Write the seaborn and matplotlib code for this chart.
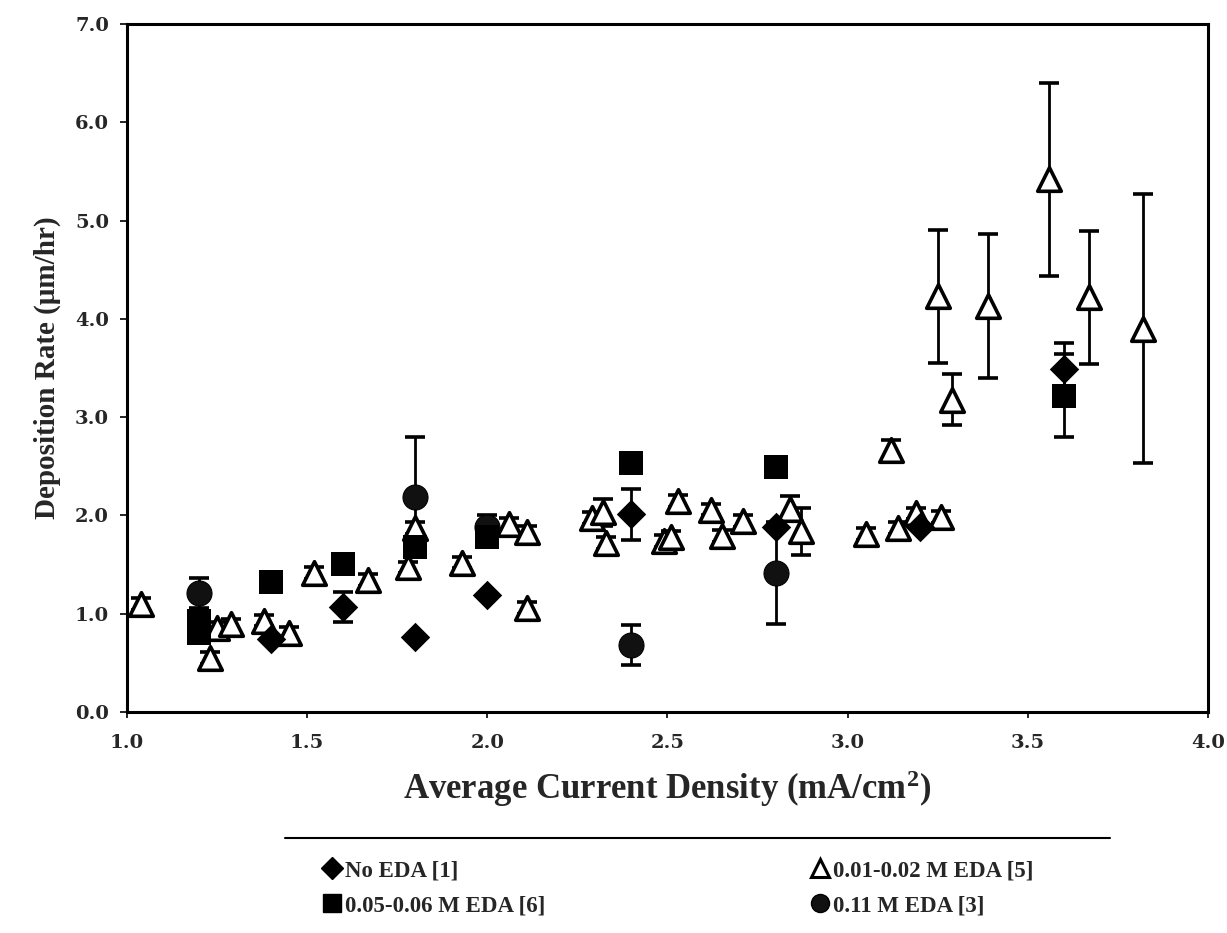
import matplotlib
matplotlib.use("Agg")
import matplotlib.pyplot as plt
import seaborn as sns
import numpy as np
import pandas as pd
from matplotlib.lines import Line2D

# ---------------- data ----------------
no_eda_x = [1.4, 1.6, 1.8, 2.0, 2.4, 2.8, 3.2, 3.6]
no_eda_y = [0.74, 1.07, 0.76, 1.19, 2.01, 1.88, 1.88, 3.49]
no_eda_err = [0.0, 0.15, 0.0, 0.0, 0.26, 0.0, 0.0, 0.27]

low_x = [1.04, 1.23, 1.25, 1.29, 1.38, 1.45, 1.52, 1.67, 1.78, 1.80, 1.93,
         2.06, 2.11, 2.11, 2.29, 2.32, 2.33, 2.49, 2.51, 2.53, 2.62, 2.65,
         2.71, 2.84, 2.87, 3.05, 3.12, 3.14, 3.19, 3.26, 3.25, 3.29, 3.39,
         3.56, 3.67, 3.82]
low_y = [1.10, 0.55, 0.85, 0.89, 0.93, 0.80, 1.41, 1.34, 1.47, 1.87, 1.52,
         1.91, 1.83, 1.06, 1.97, 2.03, 1.72, 1.74, 1.78, 2.15, 2.06, 1.79,
         1.94, 2.07, 1.84, 1.81, 2.67, 1.87, 2.02, 1.98, 4.23, 3.18, 4.13,
         5.42, 4.22, 3.90]
low_err = [0.06, 0.06, 0.06, 0.06, 0.06, 0.06, 0.06, 0.06, 0.06, 0.06, 0.06,
           0.06, 0.06, 0.06, 0.06, 0.14, 0.06, 0.06, 0.06, 0.06, 0.06, 0.06,
           0.06, 0.13, 0.24, 0.06, 0.10, 0.06, 0.06, 0.06, 0.68, 0.26, 0.73,
           0.98, 0.68, 1.37]

mid_x = [1.2, 1.2, 1.4, 1.6, 1.8, 2.0, 2.4, 2.8, 3.6]
mid_y = [0.80, 0.93, 1.32, 1.51, 1.68, 1.78, 2.53, 2.49, 3.22]
mid_err = [0.0, 0.0, 0.0, 0.0, 0.0, 0.0, 0.0, 0.0, 0.42]

high_x = [1.2, 1.8, 2.0, 2.4, 2.8]
high_y = [1.21, 2.19, 1.88, 0.68, 1.41]
high_err = [0.15, 0.61, 0.12, 0.20, 0.52]

labels = ["No EDA [1]", "0.01-0.02 M EDA [5]", "0.05-0.06 M EDA [6]", "0.11 M EDA [3]"]
x_ticks = [1.0, 1.5, 2.0, 2.5, 3.0, 3.5, 4.0]
y_ticks = [0.0, 1.0, 2.0, 3.0, 4.0, 5.0, 6.0, 7.0]

# ---------------- style ----------------
sns.set_theme(style="white")
plt.rcParams['font.family'] = ['Liberation Serif', 'DejaVu Serif']
plt.rcParams['font.weight'] = 'bold'
plt.rcParams['mathtext.fontset'] = 'custom'
plt.rcParams['mathtext.rm'] = 'Liberation Serif:bold'
plt.rcParams['mathtext.bf'] = 'Liberation Serif:bold'
plt.rcParams['mathtext.it'] = 'Liberation Serif:bold'

fig = plt.figure(figsize=(12.27, 9.33), dpi=100)
ax = fig.add_axes([0.1035, 0.237, 0.881, 0.737])

series = [
    (no_eda_x, no_eda_y, no_eda_err, "D", "black", "black", 15, 0, labels[0]),
    (low_x, low_y, low_err, "^", "white", "black", 17, 2.6, labels[1]),
    (mid_x, mid_y, mid_err, "s", "black", "black", 17, 0, labels[2]),
    (high_x, high_y, high_err, "o", "#111111", "black", 18, 0.8, labels[3]),
]

order = [1, 0, 3, 2]
for i in order:
    xs, ys, es, m, fc, ec, ms, mew, lab = series[i]
    es = np.array(es)
    mask = es > 0
    if mask.any():
        ax.errorbar(np.array(xs)[mask], np.array(ys)[mask], yerr=es[mask], fmt="none",
                    ecolor="black", elinewidth=2.0, capsize=7, capthick=2.6, zorder=2)
    df = pd.DataFrame({"x": xs, "y": ys})
    sns.scatterplot(data=df, x="x", y="y", marker=m, s=ms ** 2, color=fc,
                    edgecolor=ec, linewidth=mew, ax=ax, zorder=3, legend=False)

ax.set_xlim(1.0, 4.0)
ax.set_ylim(0.0, 7.0)
ax.set_xticks(x_ticks)
ax.set_yticks(y_ticks)
tick_font = {"family": "DejaVu Serif", "weight": "bold", "size": 14}
ax.set_xticklabels([f"{v:.1f}" for v in x_ticks], fontdict=tick_font)
ax.set_yticklabels([f"{v:.1f}" for v in y_ticks], fontdict=tick_font)
ax.tick_params(axis="x", direction="out", length=4, width=1.2, color="black",
               bottom=True, pad=12)
ax.tick_params(axis="y", direction="out", length=5, width=1.2, color="black",
               left=True, pad=8)
for sp in ax.spines.values():
    sp.set_color("black")
    sp.set_linewidth(2.2)

ax.set_xlabel("Average Current Density (mA/cm$^{2}$)", fontsize=25,
              fontweight="bold", labelpad=12)
ax.set_ylabel("Deposition Rate (μm/hr)", fontsize=21,
              fontweight="bold", labelpad=10)

# legend (column-major fill -> row1: No EDA, 0.01-0.02 ; row2: 0.05-0.06, 0.11)
h_no = Line2D([], [], marker="D", linestyle="none", markerfacecolor="black",
              markeredgecolor="black", markersize=11)
h_low = Line2D([], [], marker="^", linestyle="none", markerfacecolor="white",
               markeredgecolor="black", markeredgewidth=2.2, markersize=13)
h_mid = Line2D([], [], marker="s", linestyle="none", markerfacecolor="black",
               markeredgecolor="black", markersize=13)
h_high = Line2D([], [], marker="o", linestyle="none", markerfacecolor="#111111",
                markeredgecolor="black", markersize=13)
handles = [h_no, h_mid, h_low, h_high]
leg_labels = [labels[0], labels[2], labels[1], labels[3]]
fig.legend(handles, leg_labels, loc="upper left", bbox_to_anchor=(0.245, 0.1),
           ncol=2, frameon=False,
           prop={"family": "Liberation Serif", "weight": "bold", "size": 16.5},
           handlelength=0.9, handletextpad=0.15, columnspacing=11.5, labelspacing=0.6)
fig.add_artist(Line2D([0.232, 0.905], [0.102, 0.102], transform=fig.transFigure,
                      color="black", linewidth=1.5))

fig.savefig("out.png", dpi=100)
